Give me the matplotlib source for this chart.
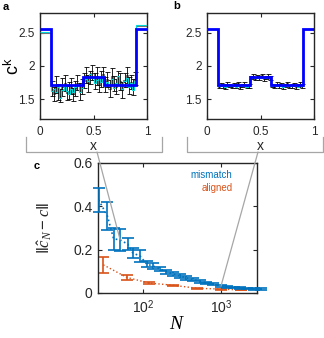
import numpy as np
import matplotlib
matplotlib.use("Agg")
import matplotlib.pyplot as plt
from matplotlib.lines import Line2D
from matplotlib.patches import ConnectionPatch

plt.rcParams['font.family'] = ['Liberation Sans', 'DejaVu Sans']
plt.rcParams['mathtext.fontset'] = 'custom'
plt.rcParams['mathtext.rm'] = 'Liberation Sans'
plt.rcParams['mathtext.it'] = 'Liberation Serif:italic'
plt.rcParams['mathtext.bf'] = 'Liberation Sans:bold'

# ---------------- data ----------------
# true coefficient (piecewise constant)
seg_edges = [0.0, 0.1, 0.4, 0.6, 0.9, 1.0]
c_true = [2.56, 1.71, 1.83, 1.71, 2.56]

# panel a: mismatched estimate (40 cells between 0.1 and 0.9) + outer cells
a_left_black, a_right_black = 2.50, 2.60
a_left_cyan, a_right_cyan = 2.51, 2.62
black_a = [1.66, 1.58, 1.72, 1.61, 1.55, 1.68, 1.74, 1.59, 1.63, 1.70,
           1.57, 1.66, 1.75, 1.62, 1.69, 1.78, 1.86, 1.74, 1.83, 1.90,
           1.77, 1.85, 1.72, 1.81, 1.88, 1.72, 1.80, 1.66, 1.85, 1.74,
           1.69, 1.82, 1.77, 1.64, 1.79, 1.86, 1.70, 1.76, 1.68, 1.81]
err_a = [0.12, 0.11, 0.13, 0.12, 0.10, 0.14, 0.12, 0.11, 0.13, 0.12,
         0.10, 0.12, 0.11, 0.13, 0.12, 0.11, 0.12, 0.13, 0.10, 0.11,
         0.12, 0.13, 0.11, 0.12, 0.10, 0.12, 0.11, 0.13, 0.12, 0.11,
         0.12, 0.10, 0.13, 0.12, 0.11, 0.12, 0.13, 0.11, 0.12, 0.10]
cyan_a = [1.62, 1.65, 1.60, 1.68, 1.52, 1.64, 1.70, 1.63, 1.58, 1.66,
          1.61, 1.69, 1.72, 1.60, 1.67, 1.84, 1.80, 1.78, 1.88, 1.82,
          1.74, 1.79, 1.83, 1.76, 1.85, 1.70, 1.76, 1.72, 1.80, 1.67,
          1.74, 1.85, 1.71, 1.66, 1.78, 1.82, 1.69, 1.75, 1.64, 1.77]

# panel b: aligned estimate
black_b = [1.69, 1.72, 1.70, 1.68, 1.73, 1.71, 1.69, 1.72, 1.70, 1.74,
           1.68, 1.71, 1.73, 1.69, 1.70, 1.83, 1.85, 1.81, 1.84, 1.82,
           1.86, 1.80, 1.83, 1.85, 1.82, 1.71, 1.69, 1.73, 1.70, 1.72,
           1.68, 1.71, 1.74, 1.69, 1.70, 1.72, 1.68, 1.71, 1.73, 1.70]
err_b = [0.025] * 40
cyan_b = [1.70, 1.71, 1.70, 1.69, 1.71, 1.70, 1.70, 1.71, 1.69, 1.70,
          1.71, 1.70, 1.70, 1.69, 1.71, 1.82, 1.83, 1.82, 1.83, 1.82,
          1.83, 1.82, 1.82, 1.83, 1.82, 1.70, 1.71, 1.70, 1.71, 1.70,
          1.69, 1.70, 1.71, 1.70, 1.70, 1.71, 1.70, 1.69, 1.71, 1.70]

# panel c: error vs N
N_mis = [27, 35, 42, 51, 64, 74, 92, 112, 134, 165, 200, 245, 300, 360,
         440, 540, 650, 800, 1000, 1200, 1450, 1780, 2150, 2650, 3300]
err_mis = [0.43, 0.355, 0.25, 0.245, 0.225, 0.185, 0.17, 0.133, 0.125,
           0.112, 0.098, 0.088, 0.078, 0.070, 0.062, 0.054, 0.047, 0.040,
           0.031, 0.028, 0.025, 0.023, 0.021, 0.019, 0.018]
sd_mis = [0.054, 0.066, 0.05, 0.05, 0.027, 0.023, 0.027, 0.013, 0.012,
          0.009, 0.010, 0.010, 0.010, 0.009, 0.008, 0.007, 0.006, 0.005,
          0.005, 0.004, 0.004, 0.003, 0.003, 0.003, 0.003]
N_ali = [31, 62, 120, 240, 490, 1000, 1800]
err_ali = [0.13, 0.072, 0.046, 0.036, 0.022, 0.018, 0.014]
sd_ali = [0.038, 0.011, 0.004, 0.003, 0.002, 0.002, 0.002]

BLUE_C = '#0072BD'
ORANGE_C = '#D95319'
SPINE = '#262626'

W, H = 324, 338
fig = plt.figure(figsize=(W / 100, H / 100), dpi=100)


def px_rect(x0, y0, x1, y1):
    return [x0 / W, 1 - y1 / H, (x1 - x0) / W, (y1 - y0) / H]


def style_axes(ax, fs):
    for s in ax.spines.values():
        s.set_color(SPINE)
        s.set_linewidth(1.0)
    ax.tick_params(direction='in', top=True, right=True, length=3,
                   width=0.8, colors=SPINE, labelsize=fs, pad=4)


def draw_profile(ax, black, err, cyan, lb, rb, lc, rc, capw):
    inner = np.linspace(0.1, 0.9, len(black) + 1)
    edges = np.concatenate([[0.0], inner, [1.0]])
    centers = 0.5 * (inner[:-1] + inner[1:])
    ax.stairs([lb] + list(black) + [rb], edges, color='0.45', lw=0.8,
              baseline=None, zorder=2)
    ax.errorbar(centers, black, yerr=err, fmt='none', ecolor='black',
                elinewidth=0.6, capsize=capw, capthick=0.6, zorder=3)
    ax.stairs([lc] + list(cyan) + [rc], edges, color='#00D8D8', lw=0.8,
              baseline=None, zorder=4)
    ax.stairs(c_true, seg_edges, color='#0000FF', lw=2.0, baseline=None,
              zorder=5)
    ax.set_xlim(0, 1)
    ax.set_ylim(1.2, 2.8)
    ax.set_xticks([0, 0.5, 1])
    ax.set_xticklabels(['0', '0.5', '1'])
    ax.set_yticks([1.5, 2, 2.5])
    ax.set_yticklabels(['1.5', '2', '2.5'])
    style_axes(ax, 8.5)
    ax.tick_params(axis='x', pad=5)


ax_a = fig.add_axes(px_rect(40, 13, 147, 119))
draw_profile(ax_a, black_a, err_a, cyan_a, a_left_black, a_right_black,
             a_left_cyan, a_right_cyan, 1.8)
ax_a.set_ylabel(r'$\mathrm{c}^{\mathrm{k}}$', fontsize=13)
ax_a.yaxis.set_label_coords(-0.16, 0.5)

ax_b = fig.add_axes(px_rect(207, 13, 314, 119))
draw_profile(ax_b, black_b, err_b, cyan_b, 2.56, 2.56, 2.56, 2.56, 1.8)

ax_c = fig.add_axes(px_rect(98, 163, 257, 293))
e1 = ax_c.errorbar(N_mis, err_mis, yerr=sd_mis, color=BLUE_C, ls=':',
                   lw=1.2, elinewidth=1.2, capsize=4, capthick=1.2, zorder=3)
for art in [e1.lines[0]] + list(e1.lines[1]) + list(e1.lines[2]):
    art.set_clip_on(False)
ax_c.errorbar(N_ali, err_ali, yerr=sd_ali, color=ORANGE_C, ls=':',
              lw=1.0, elinewidth=1.2, capsize=4, capthick=1.2, zorder=2)
ax_c.set_xscale('log')
ax_c.set_xlim(26.5, 2900)
ax_c.set_ylim(0, 0.6)
ax_c.set_xticks([100, 1000])
ax_c.set_xticklabels([r'10$^{2}$', r'10$^{3}$'])
ax_c.xaxis.set_minor_locator(matplotlib.ticker.NullLocator())
ax_c.set_yticks([0, 0.2, 0.4, 0.6])
ax_c.set_yticklabels(['0', '0.2', '0.4', '0.6'])
style_axes(ax_c, 10)
ax_c.set_xlabel(r'$N$', fontsize=14, labelpad=0)
ax_c.set_ylabel(r'$\Vert\hat{c}_N - c\Vert$', fontsize=12, color='#262626')
ax_c.yaxis.set_label_coords(-0.275, 0.5)
ax_c.text(0.845, 0.905, 'mismatch', transform=ax_c.transAxes, ha='right',
          va='center', color=BLUE_C, fontsize=7)
ax_c.text(0.845, 0.805, 'aligned', transform=ax_c.transAxes, ha='right',
          va='center', color=ORANGE_C, fontsize=7)

# panel letters
fig.text(3 / W, 1 - 7 / H, 'a', fontsize=8, fontweight='bold', va='center')
fig.text(173 / W, 1 - 6 / H, 'b', fontsize=8, fontweight='bold', va='center')
fig.text(34 / W, 1 - 166 / H, 'c', fontsize=8, fontweight='bold', va='center')

# x labels for a and b
fig.text(93 / W, 1 - 146 / H, 'x', fontsize=10, ha='center', va='center',
         color='#262626')
fig.text(260 / W, 1 - 146 / H, 'x', fontsize=10, ha='center', va='center',
         color='#262626')

# brackets
GRAY = '#A6A6A6'


def bracket(x0, x1, y0, y1):
    fig.add_artist(Line2D([x0 / W, x0 / W, x1 / W, x1 / W],
                          [1 - y0 / H, 1 - y1 / H, 1 - y1 / H, 1 - y0 / H],
                          transform=fig.transFigure, color=GRAY, lw=0.9))


bracket(26, 162, 137, 152)
bracket(187, 323, 137, 152)

con1 = ConnectionPatch(xyA=(97 / W, 1 - 152 / H), coordsA=fig.transFigure,
                       xyB=(N_mis[3], err_mis[3]), coordsB=ax_c.transData,
                       color=GRAY, lw=0.9, zorder=10)
fig.add_artist(con1)
con2 = ConnectionPatch(xyA=(258 / W, 1 - 152 / H), coordsA=fig.transFigure,
                       xyB=(N_mis[18], err_mis[18]), coordsB=ax_c.transData,
                       color=GRAY, lw=0.9, zorder=10)
fig.add_artist(con2)

fig.savefig('out.png', dpi=100)
